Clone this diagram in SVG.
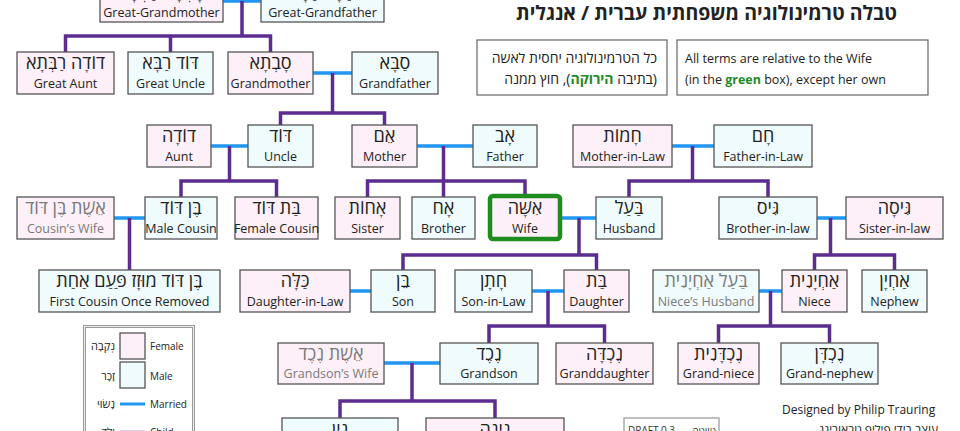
<svg xmlns="http://www.w3.org/2000/svg" width="960" height="431" viewBox="0 0 960 431">
<style>
text{font-family:"Open Sans","DejaVu Sans",sans-serif;fill:#222}
.f{fill:#fdf0f8;stroke:#555;stroke-width:1.3}
.b{fill:#effbfc;stroke:#555;stroke-width:1.3}
.he{font-size:18px;text-anchor:middle}
.en{font-size:12.5px;text-anchor:middle}
.g{fill:#7a7a7a}
.c{fill:none;stroke:#5b2d8e;stroke-width:3.5;stroke-linejoin:miter}
.m{fill:none;stroke:#2196f3;stroke-width:3.5}
.note{fill:#fff;stroke:#666;stroke-width:1.2}
.nt{font-size:12.5px}
.nh{font-size:14px}
.grn{fill:#1e8c1e;font-weight:bold}
.lg{font-size:10px}
.lh{font-size:11px;text-anchor:end}
</style>

<g id="title">
<text x="897" y="20" direction="rtl" style="font-size:19.5px;font-weight:bold;text-anchor:start">טבלה טרמינולוגיה משפחתית עברית / אנגלית</text>
</g>

<g id="note-he">
<rect class="note" x="477" y="40" width="190" height="55"/>
<text class="nh" x="657" y="63" direction="rtl" text-anchor="start">כל הטרמינולוגיה יחסית לאשה</text>
<text class="nh" x="657" y="84" direction="rtl" text-anchor="start">(בתיבה <tspan class="grn">הירוקה</tspan>), חוץ ממנה</text>
</g>
<g id="note-en">
<rect class="note" x="677" y="40" width="251" height="55"/>
<text class="nt" x="685" y="63">All terms are relative to the Wife</text>
<text class="nt" x="685" y="84">(in the <tspan class="grn">green</tspan> box), except her own</text>
</g>

<g id="connectors">
<path class="m" d="M223,1 H261 M313,73 H352 M211,146 H248 M417,146 H473 M672,146 H714 M114,218 H145 M562,218 H596 M817,218 H846 M350,291 H371 M532,291 H564 M759,291 H782 M384,363 H440"/>
<path class="c" d="M65.5,52 V36 H270.5 V52 M170.5,36 V52 M242,1 V36"/>
<path class="c" d="M280.5,125 V113 H384.5 V125 M332.5,73 V113"/>
<path class="c" d="M181,197 V181 H276.5 V197 M229.5,146 V181"/>
<path class="c" d="M367.5,197 V181 H525 V196 M443.5,146 V197"/>
<path class="c" d="M629,197 V181 H768 V197 M692.5,146 V181"/>
<path class="c" d="M129.5,218 V270"/>
<path class="c" d="M403,270 V255 H596.5 V270 M579,218 V255"/>
<path class="c" d="M814.5,270 V255 H894.5 V270 M830.5,218 V255"/>
<path class="c" d="M489,343 V326 H604.5 V343 M548,291 V326"/>
<path class="c" d="M718.5,343 V326 H829.5 V343 M770.5,291 V326"/>
<path class="c" d="M340,418 V401 H495 V418 M412,363 V401"/>
</g>

<g id="great-grandmother"><rect class="f" x="100" y="-20" width="123" height="42"/><text class="he" x="161.5" y="-1">סָבְתָא רַבְּתָא</text><text class="en" x="161.5" y="16.5">Great-Grandmother</text></g>
<g id="great-grandfather"><rect class="b" x="261" y="-20" width="123" height="42"/><text class="he" x="322.5" y="-1">סַבָּא רַבָּא</text><text class="en" x="322.5" y="16.5">Great-Grandfather</text></g>

<g id="great-aunt"><rect class="f" x="17" y="52" width="97" height="42"/><text class="he" x="65.5" y="69">דוֹדָה רַבְּתָא</text><text class="en" x="65.5" y="87.5">Great Aunt</text></g>
<g id="great-uncle"><rect class="b" x="128" y="52" width="85" height="42"/><text class="he" x="170.5" y="69">דּוֹד רַבָּא</text><text class="en" x="170.5" y="87.5">Great Uncle</text></g>
<g id="grandmother"><rect class="f" x="228" y="52" width="85" height="42"/><text class="he" x="270.5" y="69">סָבְתָא</text><text class="en" x="270.5" y="87.5">Grandmother</text></g>
<g id="grandfather"><rect class="b" x="352" y="52" width="86" height="42"/><text class="he" x="395" y="69">סַבָּא</text><text class="en" x="395" y="87.5">Grandfather</text></g>

<g id="aunt"><rect class="f" x="147" y="125" width="64" height="42"/><text class="he" x="179" y="142">דוֹדָה</text><text class="en" x="179" y="160.5">Aunt</text></g>
<g id="uncle"><rect class="b" x="248" y="125" width="65" height="42"/><text class="he" x="280.5" y="142">דּוֹד</text><text class="en" x="280.5" y="160.5">Uncle</text></g>
<g id="mother"><rect class="f" x="352" y="125" width="65" height="42"/><text class="he" x="384.5" y="142">אֵם</text><text class="en" x="384.5" y="160.5">Mother</text></g>
<g id="father"><rect class="b" x="473" y="125" width="64" height="42"/><text class="he" x="505" y="142">אָב</text><text class="en" x="505" y="160.5">Father</text></g>
<g id="mother-in-law"><rect class="f" x="573" y="125" width="99" height="42"/><text class="he" x="622.5" y="142">חָמוֹת</text><text class="en" x="622.5" y="160.5">Mother-in-Law</text></g>
<g id="father-in-law"><rect class="b" x="714" y="125" width="98" height="42"/><text class="he" x="763" y="142">חָם</text><text class="en" x="763" y="160.5">Father-in-Law</text></g>

<g id="cousins-wife"><rect class="f" x="17" y="197" width="97" height="42"/><text class="he g" x="65.5" y="214">אֵשֶׁת בֶּן דּוֹד</text><text class="en g" x="65.5" y="232.5">Cousin’s Wife</text></g>
<g id="male-cousin"><rect class="b" x="145" y="197" width="72" height="42"/><text class="he" x="181" y="214">בֶּן דּוֹד</text><text class="en" x="181" y="232.5">Male Cousin</text></g>
<g id="female-cousin"><rect class="f" x="235" y="197" width="83" height="42"/><text class="he" x="276.5" y="214">בַּת דּוֹד</text><text class="en" x="276.5" y="232.5">Female Cousin</text></g>
<g id="sister"><rect class="f" x="335" y="197" width="65" height="42"/><text class="he" x="367.5" y="214">אָחוֹת</text><text class="en" x="367.5" y="232.5">Sister</text></g>
<g id="brother"><rect class="b" x="412" y="197" width="63" height="42"/><text class="he" x="443.5" y="214">אָח</text><text class="en" x="443.5" y="232.5">Brother</text></g>
<g id="wife"><rect x="490" y="196" width="70" height="43" rx="3" fill="#fdf0f8" stroke="#1e8c1e" stroke-width="4.5"/><text class="he" x="525" y="214">אִשָּׁה</text><text class="en" x="525" y="232.5">Wife</text></g>
<g id="husband"><rect class="b" x="596" y="197" width="66" height="42"/><text class="he" x="629" y="214">בַּעַל</text><text class="en" x="629" y="232.5">Husband</text></g>
<g id="brother-in-law"><rect class="b" x="719" y="197" width="98" height="42"/><text class="he" x="768" y="214">גִּיס</text><text class="en" x="768" y="232.5">Brother-in-law</text></g>
<g id="sister-in-law"><rect class="f" x="846" y="197" width="97" height="42"/><text class="he" x="894.5" y="214">גִּיסָה</text><text class="en" x="894.5" y="232.5">Sister-in-law</text></g>

<g id="first-cousin-once-removed"><rect class="b" x="39" y="270" width="181" height="42"/><text class="he" x="129.5" y="287">בֶּן דּוֹד מוּזָז פַּעַם אַחַת</text><text class="en" x="129.5" y="305.5">First Cousin Once Removed</text></g>
<g id="daughter-in-law"><rect class="f" x="240" y="270" width="110" height="42"/><text class="he" x="295" y="287">כַּלָּה</text><text class="en" x="295" y="305.5">Daughter-in-Law</text></g>
<g id="son"><rect class="b" x="371" y="270" width="64" height="42"/><text class="he" x="403" y="287">בֵּן</text><text class="en" x="403" y="305.5">Son</text></g>
<g id="son-in-law"><rect class="b" x="455" y="270" width="77" height="42"/><text class="he" x="493.5" y="287">חָתָן</text><text class="en" x="493.5" y="305.5">Son-in-Law</text></g>
<g id="daughter"><rect class="f" x="564" y="270" width="65" height="42"/><text class="he" x="596.5" y="287">בַּת</text><text class="en" x="596.5" y="305.5">Daughter</text></g>
<g id="nieces-husband"><rect class="b" x="653" y="270" width="106" height="42"/><text class="he g" x="706" y="287">בַּעַל אַחְיָנִית</text><text class="en g" x="706" y="305.5">Niece’s Husband</text></g>
<g id="niece"><rect class="f" x="782" y="270" width="65" height="42"/><text class="he" x="814.5" y="287">אַחְיָנִית</text><text class="en" x="814.5" y="305.5">Niece</text></g>
<g id="nephew"><rect class="b" x="862" y="270" width="65" height="42"/><text class="he" x="894.5" y="287">אַחְיָן</text><text class="en" x="894.5" y="305.5">Nephew</text></g>

<g id="grandsons-wife"><rect class="f" x="278" y="343" width="106" height="41"/><text class="he g" x="331" y="360">אֵשֶׁת נֶכֶד</text><text class="en g" x="331" y="378">Grandson’s Wife</text></g>
<g id="grandson"><rect class="b" x="440" y="343" width="98" height="41"/><text class="he" x="489" y="360">נֶכֶד</text><text class="en" x="489" y="378">Grandson</text></g>
<g id="granddaughter"><rect class="f" x="556" y="343" width="97" height="41"/><text class="he" x="604.5" y="360">נֶכְדָּה</text><text class="en" x="604.5" y="378">Granddaughter</text></g>
<g id="grand-niece"><rect class="f" x="678" y="343" width="81" height="41"/><text class="he" x="718.5" y="360">נֶכְדָּנִית</text><text class="en" x="718.5" y="378">Grand-niece</text></g>
<g id="grand-nephew"><rect class="b" x="781" y="343" width="97" height="41"/><text class="he" x="829.5" y="360">נֶכְדָּן</text><text class="en" x="829.5" y="378">Grand-nephew</text></g>

<g id="great-grandson"><rect class="b" x="282" y="418" width="116" height="42"/><text class="he" x="340" y="436">נִין</text></g>
<g id="great-granddaughter"><rect class="f" x="426" y="418" width="138" height="42"/><text class="he" x="495" y="436">נִינָה</text></g>

<g id="legend">
<rect x="84.5" y="326.5" width="109" height="120" fill="#fff" stroke="#999" stroke-width="3"/>
<rect x="84.5" y="326.5" width="109" height="120" fill="none" stroke="#fff" stroke-width="0.8"/>
<rect class="f" x="120" y="333" width="25" height="26"/>
<text class="lh" x="115" y="350">נְקֵבָה</text><text class="lg" x="150" y="350">Female</text>
<rect class="b" x="120" y="362" width="25" height="26"/>
<text class="lh" x="115" y="380">זָכָר</text><text class="lg" x="150" y="380">Male</text>
<line x1="120" y1="404" x2="145" y2="404" stroke="#2196f3" stroke-width="3"/>
<text class="lh" x="115" y="408">נָשׂוּי</text><text class="lg" x="150" y="408">Married</text>
<line x1="120" y1="432" x2="145" y2="432" stroke="#b9a2e2" stroke-width="3"/>
<text class="lh" x="115" y="436">יֶלֶד</text><text class="lg" x="150" y="436">Child</text>
</g>

<g id="draft">
<rect x="624" y="418" width="95" height="30" fill="#fff" stroke="#aaa" stroke-width="1.5"/>
<text x="628" y="434" style="font-size:10px;fill:#333">DRAFT 0.3</text>
<text x="716" y="434" style="font-size:10px;fill:#333;text-anchor:end">טיוטה</text>
</g>

<g id="credit">
<text x="782" y="414" style="font-size:12px">Designed by Philip Trauring</text>
<text x="938" y="434" style="font-size:12px;text-anchor:end">עוצב בידי פיליפ טראורינג</text>
</g>
</svg>
